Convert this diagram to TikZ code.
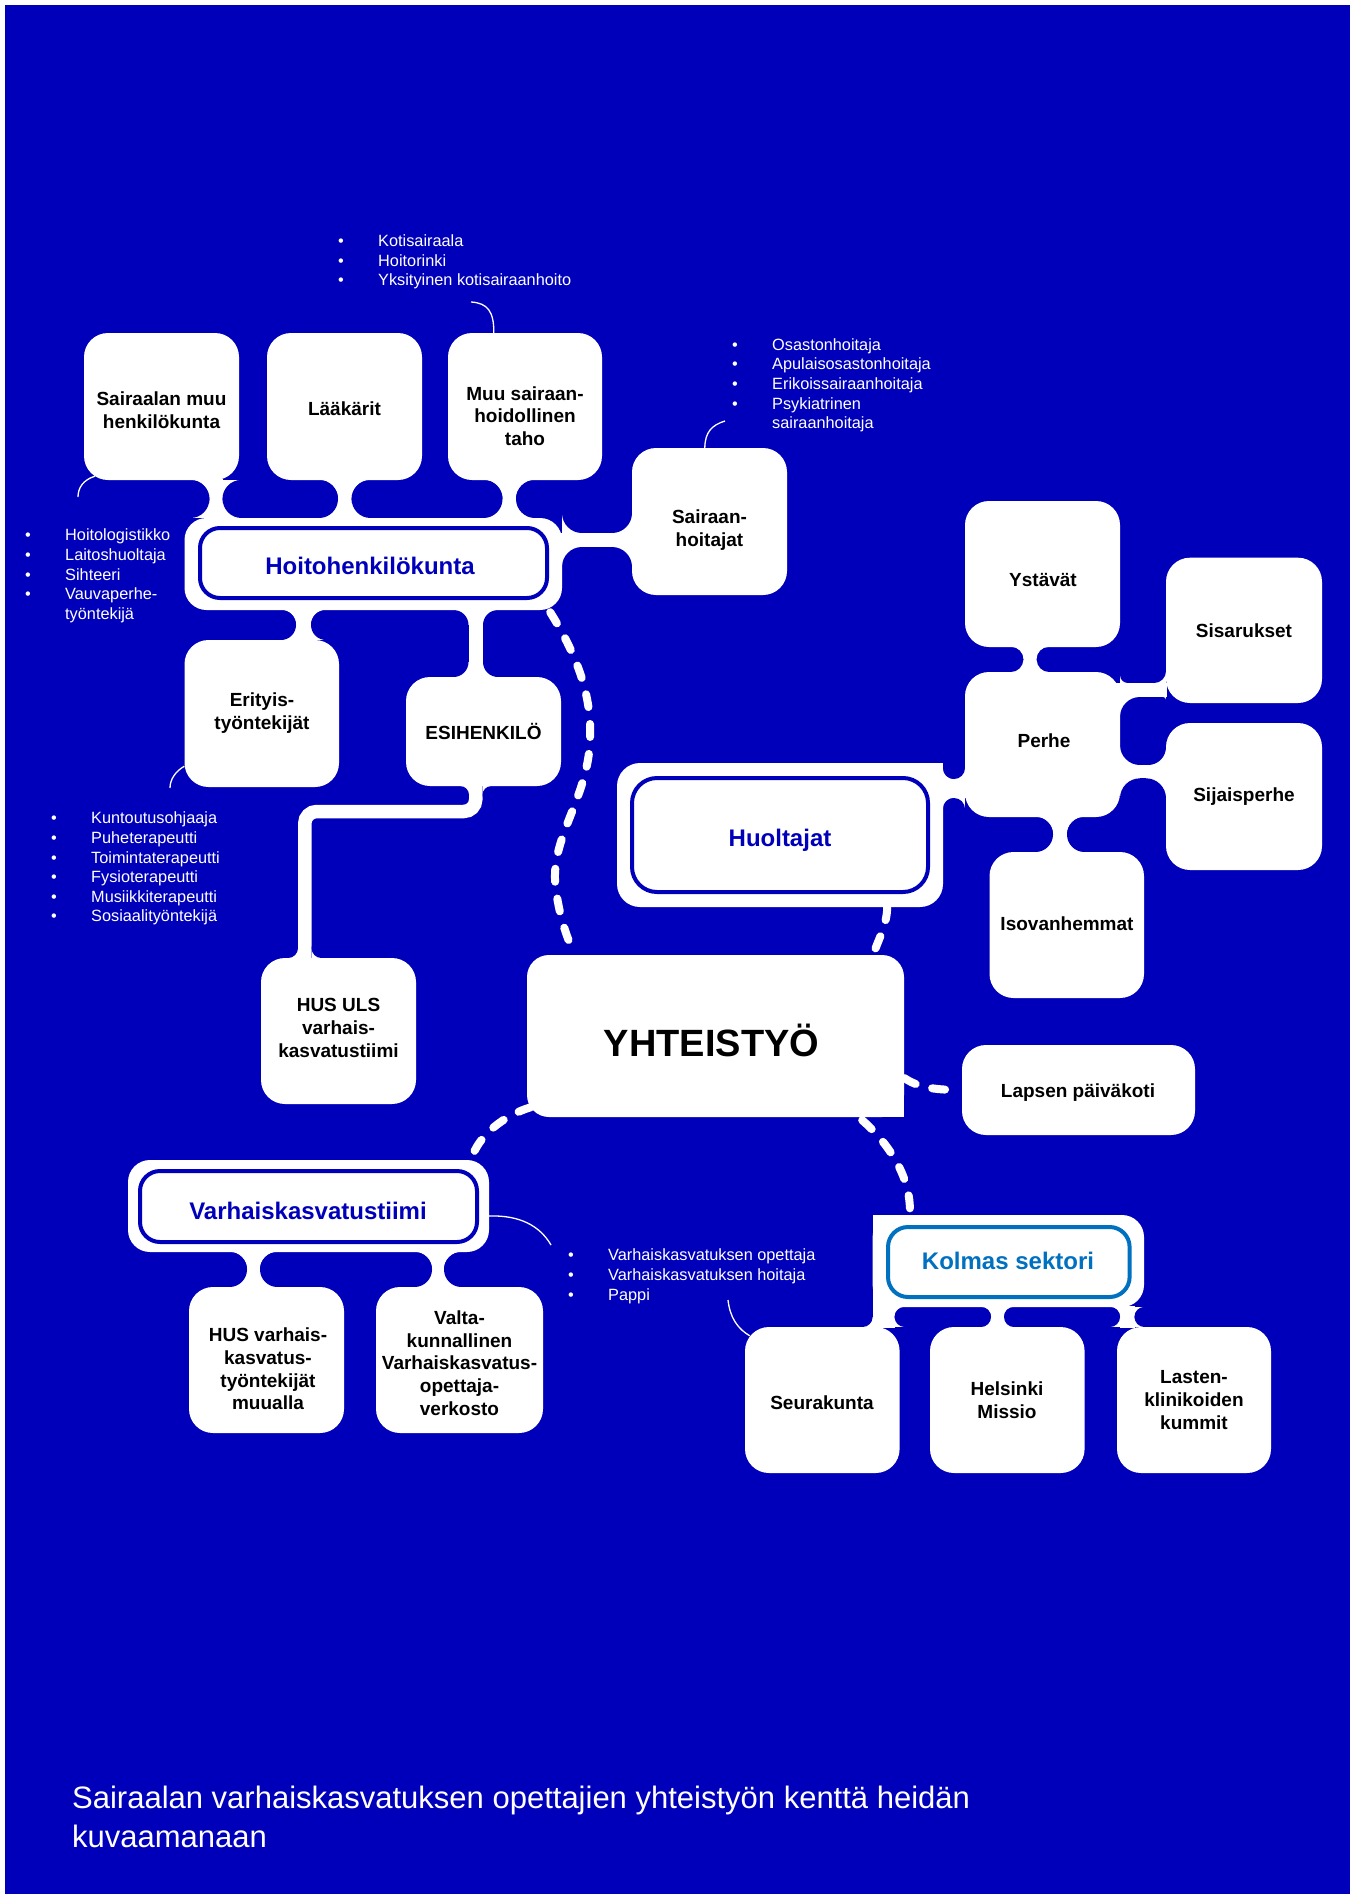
\documentclass[tikz,border=0pt]{standalone}
\usepackage{fontspec}
\setmainfont{Liberation Sans}
\definecolor{bg}{HTML}{0000BB}
\definecolor{ks}{HTML}{0070C0}
% concave fillet: corner (x,y), radius r, quadrant signs sx sy
\newcommand\fil[5]{%
  \fill[white] (#1,#2) rectangle ++(#4*#3,#5*#3);
  \fill[bg] (#1,#2) ++(#4*#3,#5*#3) circle[radius=#3pt];}
% vertical neck: a b y1 y2 r
\newcommand\vneck[5]{%
  \fill[white] (#1,#3-1) rectangle (#2,#4+1);
  \fil{#1}{#3}{#5}{-1}{1}\fil{#2}{#3}{#5}{1}{1}%
  \fil{#1}{#4}{#5}{-1}{-1}\fil{#2}{#4}{#5}{1}{-1}}
% horizontal neck: ya yb x1 x2 r
\newcommand\hneck[5]{%
  \fill[white] (#3-1,#1) rectangle (#4+1,#2);
  \fil{#3}{#1}{#5}{1}{-1}\fil{#4}{#1}{#5}{-1}{-1}%
  \fil{#3}{#2}{#5}{1}{1}\fil{#4}{#2}{#5}{-1}{1}}
\newcommand\bitem[4]{%
  \node[bul] (#1) at (#2-3,#3) {•};
  \node[bul] (#1t) at (#2+37,#3) {#4};}
\begin{document}
\begin{tikzpicture}[x=1pt,y=-1pt,
  box/.style={fill=white, rounded corners=24pt, inner sep=0pt, minimum width=155pt, minimum height=147pt},
  btxt/.style={font=\fontsize{19}{22.7}\selectfont\bfseries, align=center, inner sep=0pt, text=black},
  frameo/.style={fill=white, rounded corners=22pt, inner sep=0pt},
  framei/.style={draw=bg, line width=4pt, fill=white, rounded corners=20pt, inner sep=0pt},
  htxt/.style={font=\fontsize{24}{28}\selectfont\bfseries, text=bg, inner sep=0pt},
  dashc/.style={draw=white, line width=8pt, line cap=round, dash pattern=on 13pt off 17pt},
  lead/.style={draw=white, line width=1.3pt},
  bul/.style={text=white, font=\fontsize{16.3}{19.4}\selectfont, inner sep=0pt, anchor=base west},
]
\useasboundingbox (0,0) rectangle (1350,1894);
\fill[white] (0,0) rectangle (1350,1894);
\fill[bg] (5,5) rectangle (1350,1894);

% ---------- necks and fillets ----------
% Hoitohenkilokunta top
\vneck{209.4}{222.6}{480}{518}{19}
\vneck{338}{351.6}{480}{518}{19}
\vneck{502.5}{516}{480}{518}{19}
% to Sairaanhoitajat
\hneck{533}{547}{562}{632}{20}
% Hoitohenkilokunta bottom
\vneck{296}{311}{610}{640}{15}
\vneck{468.5}{483}{610}{677}{15}
% ESIHENKILO -> HUS ULS
\draw[white, line width=13.5pt, rounded corners=12pt] (475.75,780) -- (475.75,811.5) -- (304.75,811.5) -- (304.75,965);
\fil{469}{786}{9}{-1}{1}\fil{482.5}{786}{9}{1}{1}
\fil{298}{958}{10}{-1}{-1}\fil{311.5}{958}{10}{1}{-1}
% Perhe cluster
\vneck{1023.3}{1036.7}{647}{672}{12.5}
\hneck{779}{798}{943}{965}{11}
\fill[white] (1100,683) rectangle (1167,697);
\fil{1120}{683}{8}{1}{-1}\fil{1166}{683}{12}{-1}{-1}
\fil{1120}{697}{20}{1}{1}\fil{1166}{697}{3}{-1}{1}
\fill[white] (1100,765) rectangle (1167,778.3);
\fil{1120}{765}{20}{1}{-1}\fil{1166}{765}{18}{-1}{-1}
\fil{1120}{778.3}{20}{1}{1}\fil{1166}{778.3}{20}{-1}{1}
\vneck{1053}{1067}{817}{852}{17.5}
% Varhaiskasvatustiimi bottom
\vneck{247}{260}{1252}{1287}{17.5}
\vneck{432}{444}{1252}{1287}{17.5}
% Kolmas sektori bottom
\fill[white] (872.6,1306) rectangle (894.6,1328);
\fil{872.6}{1327}{10}{-1}{-1}\fil{894.6}{1307}{10}{1}{1}\fil{894.6}{1327}{10}{1}{-1}
\vneck{991}{1004}{1307}{1327}{10}
\vneck{1120}{1134.5}{1307}{1327}{10}

% ---------- frames and boxes ----------
\node[frameo, minimum width=377.5pt, minimum height=92pt] (hoitoO) at (373.25,564) {};
\node[frameo, rounded corners=23pt, minimum width=326pt, minimum height=144pt] (huoO) at (780,835) {};
\fill[white] (920,763) rectangle (943,786);
\node[frameo, minimum width=361pt, minimum height=92pt] (varO) at (308.5,1206) {};
\node[frameo, minimum width=271.4pt, minimum height=92pt] (kolO) at (1008.3,1261) {};
\fill[white] (872.6,1215) rectangle (895,1237);
\fill[white] (872.6,1285) rectangle (895,1308);

\node[box] (sair) at (161.5,406.5) {};
\node[box] (laak) at (344.5,406.5) {};
\node[box, minimum width=154pt] (muu) at (525,406.5) {};
\node[box] (shoit) at (709.5,521.5) {};
\node[box, minimum width=154.5pt] (erit) at (261.75,713.5) {};
\node[box, minimum height=109pt] (esih) at (483.5,731.5) {};
\node[box, minimum height=146pt] (husuls) at (338.5,1031) {};
\node[box, rounded corners=22pt, minimum width=377pt, minimum height=162pt] (yht) at (715.5,1036) {};
\fill[white] (884,1097) rectangle (904,1117);
\node[box, minimum width=233pt, minimum height=90pt] (lapsen) at (1078.5,1090) {};
\node[box, minimum height=146pt] (ystav) at (1042.5,574) {};
\node[box, minimum width=156pt, minimum height=145.3pt] (sisar) at (1244,630.35) {};
\node[box, minimum height=145pt] (perhe) at (1042.5,744.5) {};
\node[box, minimum width=156pt] (sijais) at (1244,796.5) {};
\node[box, minimum width=154.5pt, minimum height=146pt] (isov) at (1066.75,925) {};
\node[box, minimum width=154.6pt, minimum height=146pt] (seura) at (822.3,1400) {};
\node[box, minimum width=154.6pt, minimum height=146pt] (hmis) at (1007.3,1400) {};
\node[box, minimum width=154pt, minimum height=146pt] (lasten) at (1194,1400) {};
\node[box, minimum height=146pt] (husv) at (266.5,1360) {};
\node[box, minimum width=167pt, minimum height=146pt] (valta) at (459.5,1360) {};

% inner frames
\node[framei, minimum width=347pt, minimum height=70pt] (hoito) at (373.5,563) {};
\node[framei, rounded corners=25pt, minimum width=296pt, minimum height=114pt] (huo) at (780,835) {};
\node[framei, minimum width=337pt, minimum height=71pt] (var) at (308.5,1206.5) {};
\node[framei, draw=ks, minimum width=241.6pt, minimum height=70pt] (kol) at (1008.8,1262) {};

% ---------- texts ----------
\node[htxt] (hoito-t) at (370,566) {Hoitohenkilökunta};
\node[htxt] (huo-t) at (780,840) {Huoltajat};
\node[htxt] (var-t) at (308,1211) {Varhaiskasvatustiimi};
\node[htxt, text=ks] (kol-t) at (1008,1261) {Kolmas sektori};

\node[btxt] (sair-t) at (161.5,410.5) {Sairaalan muu\\henkilökunta};
\node[btxt] (laak-t) at (344.5,409) {Lääkärit};
\node[btxt] (muu-t) at (525,416) {Muu sairaan-\\hoidollinen\\taho};
\node[btxt] (shoit-t) at (709.5,530) {Sairaan-\\hoitajat};
\node[btxt] (erit-t) at (262,713) {Erityis-\\työntekijät};
\node[btxt] (esih-t) at (483.5,731.4) {ESIHENKILÖ};
\node[btxt] (husuls-t) at (338.5,1028) {HUS ULS\\varhais-\\kasvatustiimi};
\node[btxt, font=\fontsize{38}{44}\selectfont\bfseries] (yht-t) at (711.5,1040) {YHTEISTYÖ};
\node[btxt] (lapsen-t) at (1078,1093) {Lapsen päiväkoti};
\node[btxt] (ystav-t) at (1043,580) {Ystävät};
\node[btxt] (sisar-t) at (1244,631) {Sisarukset};
\node[btxt] (perhe-t) at (1044,740.5) {Perhe};
\node[btxt] (sijais-t) at (1244,797) {Sijaisperhe};
\node[btxt] (isov-t) at (1067,924) {Isovanhemmat};
\node[btxt] (seura-t) at (822,1403) {Seurakunta};
\node[btxt] (hmis-t) at (1007,1400.5) {Helsinki\\Missio};
\node[btxt] (lasten-t) at (1194,1400) {Lasten-\\klinikoiden\\kummit};
\node[btxt] (husv-t) at (268,1369) {HUS varhais-\\kasvatus-\\työntekijät\\muualla};
\node[btxt] (valta-t) at (459.5,1363) {Valta-\\kunnallinen\\Varhaiskasvatus-\\opettaja-\\verkosto};

% ---------- dashed connectors ----------
\draw[dashc] ([xshift=-12pt,yshift=-2pt]hoitoO.south east) .. controls (580,660) and (592,700) .. (590,740)
  .. controls (588,800) and (548,840) .. (556,890) .. controls (560,920) and (568,940) .. ([xshift=48pt]yht.north west);
\draw[dashc] ([xshift=-56pt]huoO.south east) .. controls (887,925) and (878,940) .. ([xshift=-31pt]yht.north east);
\draw[dashc] ([xshift=4pt,yshift=10pt]yht.south west) .. controls (505,1115) and (478,1135) .. ([xshift=-18pt]varO.north east);
\draw[dashc] ([yshift=-42pt]yht.east) .. controls (918,1087) and (932,1090) .. (lapsen.west);
\draw[dashc] ([xshift=-42pt,yshift=-3pt]yht.south east) .. controls (885,1140) and (912,1175) .. ([xshift=37.4pt]kolO.north west);

% ---------- leader lines ----------
\draw[lead] ([xshift=46pt]muu.north west) .. controls (494,312) and (488,303) .. (471,302);
\draw[lead] ([xshift=11pt,yshift=4pt]sair.south west) .. controls (83,480) and (78,488) .. (78,497);
\draw[lead] ([xshift=73pt]shoit.north west) .. controls (705,432) and (712,425) .. (725,421);
\draw[lead] ([yshift=21pt]erit.south west) .. controls (176,771) and (170,779) .. (170,788);
\draw[lead] ([yshift=-10pt]varO.east) .. controls (520,1215) and (540,1226) .. (551,1245);
\draw[lead] (728,1300) .. controls (730,1318) and (738,1329) .. ([xshift=5pt,yshift=-9pt]seura.north west);

% ---------- bullet lists ----------
\bitem{ta}{341}{247}{Kotisairaala}
\bitem{tb}{341}{266}{Hoitorinki}
\bitem{tc}{341}{285}{Yksityinen kotisairaanhoito}

\bitem{ra}{735}{350}{Osastonhoitaja}
\bitem{rb}{735}{369}{Apulaisosastonhoitaja}
\bitem{rc}{735}{389}{Erikoissairaanhoitaja}
\bitem{rd}{735}{409}{Psykiatrinen}
\node[bul] (re) at (772,428) {sairaanhoitaja};

\bitem{la}{28}{540}{Hoitologistikko}
\bitem{lb}{28}{560}{Laitoshuoltaja}
\bitem{lc}{28}{580}{Sihteeri}
\bitem{ld}{28}{599}{Vauvaperhe-}
\node[bul] (le) at (65,619) {työntekijä};

\bitem{ea}{54}{823.5}{Kuntoutusohjaaja}
\bitem{eb}{54}{843.5}{Puheterapeutti}
\bitem{ec}{54}{863}{Toimintaterapeutti}
\bitem{ed}{54}{882.5}{Fysioterapeutti}
\bitem{ee}{54}{902}{Musiikkiterapeutti}
\bitem{ef}{54}{921.5}{Sosiaalityöntekijä}

\bitem{va}{571}{1260}{Varhaiskasvatuksen opettaja}
\bitem{vb}{571}{1280}{Varhaiskasvatuksen hoitaja}
\bitem{vc}{571}{1300}{Pappi}

% ---------- caption ----------
\node[text=white, font=\fontsize{31}{39}\selectfont, inner sep=0pt, anchor=base west] (cap1) at (72,1808) {Sairaalan varhaiskasvatuksen opettajien yhteistyön kenttä heidän};
\node[text=white, font=\fontsize{31}{39}\selectfont, inner sep=0pt, anchor=base west] (cap2) at (72,1847) {kuvaamanaan};
\end{tikzpicture}
\end{document}
